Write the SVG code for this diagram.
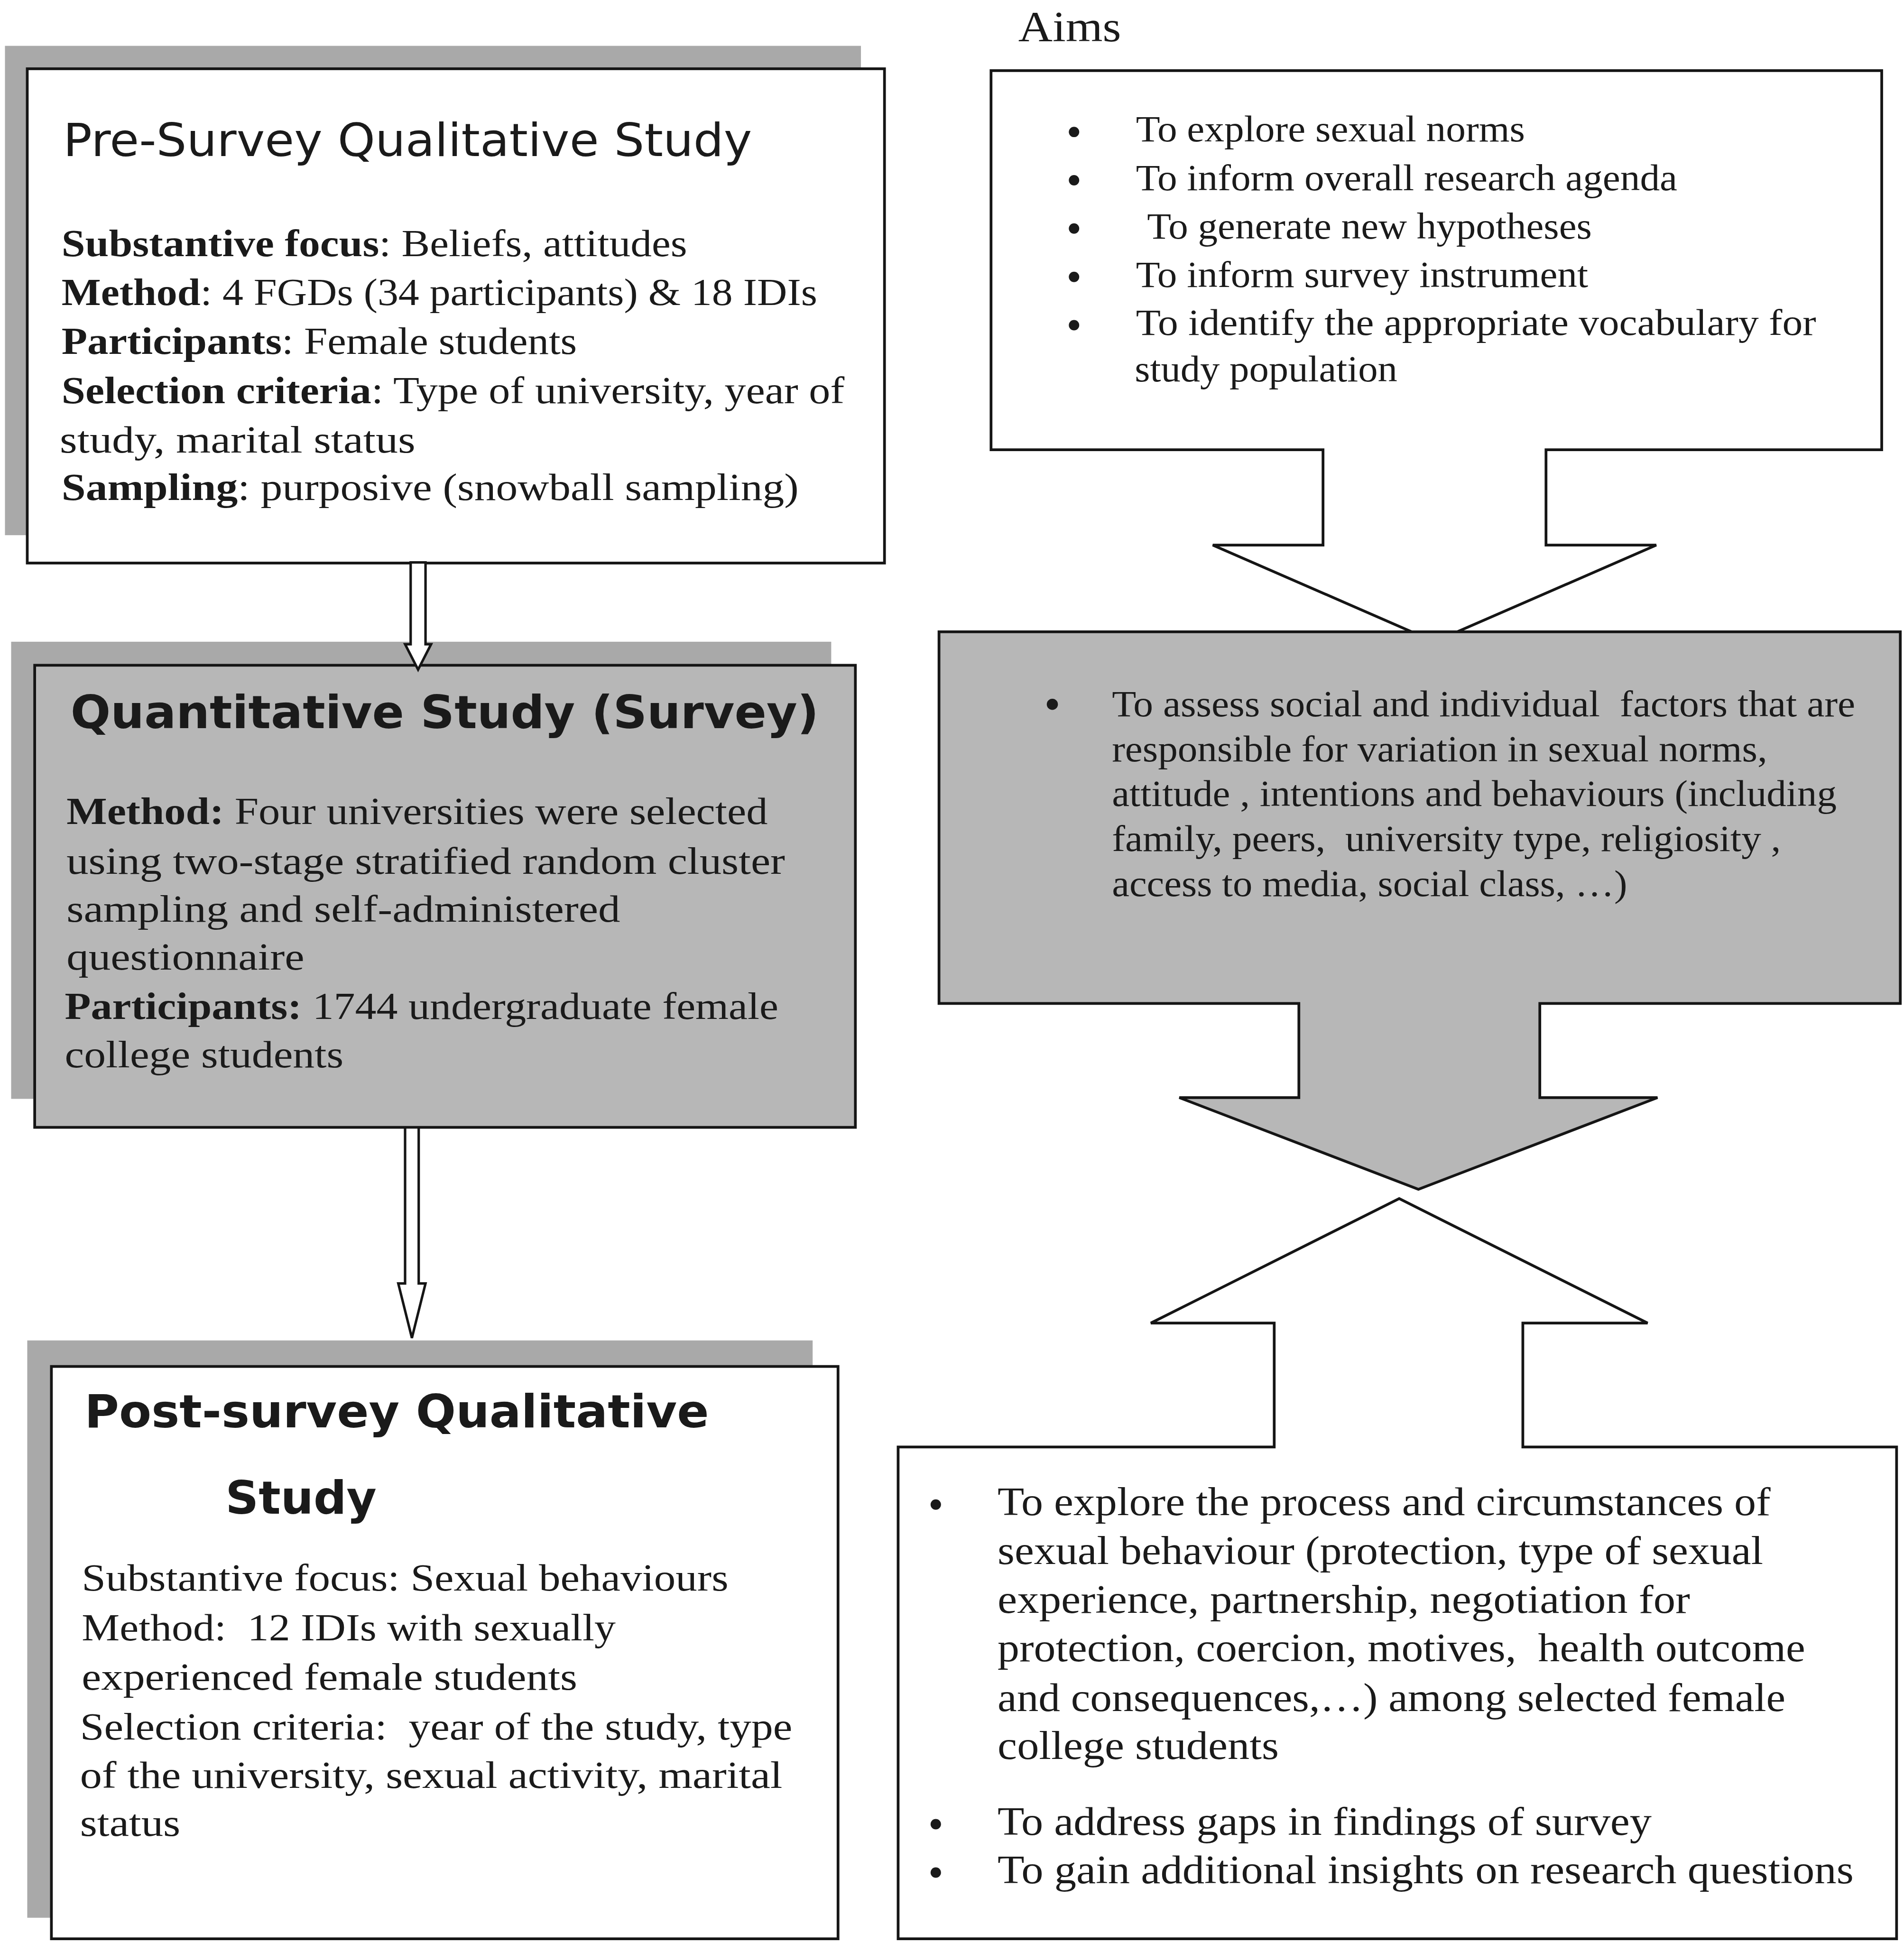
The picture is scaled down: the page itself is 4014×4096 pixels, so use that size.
<svg xmlns="http://www.w3.org/2000/svg" width="4014" height="4096" viewBox="0 0 4014 4096">
  <style>
    .shadow { fill: #a9a9a9; }
    .box { fill: #ffffff; stroke: #151515; stroke-width: 2.2; stroke-linejoin: miter; }
    .grey { fill: #b7b7b7; stroke: #151515; stroke-width: 2.2; stroke-linejoin: miter; }
    .link { fill: #ffffff; stroke: #151515; stroke-width: 2; stroke-linejoin: miter; }
    text { fill: #1a1a1a; }
    .title { font-family: "DejaVu Sans", Verdana, sans-serif; font-size: 37px; }
    .titleb { font-family: "DejaVu Sans", Verdana, sans-serif; font-size: 37px; font-weight: bold; }
    .body { font-family: "Liberation Serif", "Times New Roman", serif; font-size: 31px; }
    .aim { font-family: "Liberation Serif", "Times New Roman", serif; font-size: 30px; }
    .aim2 { font-family: "Liberation Serif", "Times New Roman", serif; font-size: 32px; }
    .b { font-weight: bold; }
    .dot { fill: #1a1a1a; }
  </style>

  <rect width="4014" height="4096" fill="#ffffff"/>

  <g transform="scale(2.6116)">

    <!-- Left column: study phases -->
    <g id="pre-survey">
      <rect class="shadow" x="4" y="37" width="691" height="395"/>
      <rect class="box" x="22" y="55.5" width="692" height="399"/>
      <text class="title" x="51" y="126" textLength="556" lengthAdjust="spacingAndGlyphs">Pre-Survey Qualitative Study</text>
      <text class="body" x="49.7" y="206.6" textLength="505" lengthAdjust="spacingAndGlyphs"><tspan class="b">Substantive focus</tspan>: Beliefs, attitudes</text>
      <text class="body" x="49.7" y="246.4" textLength="610" lengthAdjust="spacingAndGlyphs"><tspan class="b">Method</tspan>: 4 FGDs (34 participants) &amp; 18 IDIs</text>
      <text class="body" x="49.7" y="285.7" textLength="416" lengthAdjust="spacingAndGlyphs"><tspan class="b">Participants</tspan>: Female students</text>
      <text class="body" x="49.7" y="325.5" textLength="632" lengthAdjust="spacingAndGlyphs"><tspan class="b">Selection criteria</tspan>: Type of university, year of</text>
      <text class="body" x="48.3" y="365.4" textLength="287" lengthAdjust="spacingAndGlyphs">study, marital status</text>
      <text class="body" x="49.7" y="403.7" textLength="595" lengthAdjust="spacingAndGlyphs"><tspan class="b">Sampling</tspan>: purposive (snowball sampling)</text>
    </g>

    <g id="survey">
      <rect class="shadow" x="9" y="518" width="662" height="369"/>
      <rect class="grey" x="28" y="537" width="662.5" height="373"/>
      <text class="titleb" x="57" y="587.7" textLength="604" lengthAdjust="spacingAndGlyphs">Quantitative Study (Survey)</text>
      <text class="body" x="53.7" y="665" textLength="566" lengthAdjust="spacingAndGlyphs"><tspan class="b">Method:</tspan> Four universities were selected</text>
      <text class="body" x="53.7" y="705.3" textLength="580" lengthAdjust="spacingAndGlyphs">using two-stage stratified random cluster</text>
      <text class="body" x="53.7" y="744" textLength="447" lengthAdjust="spacingAndGlyphs">sampling and self-administered</text>
      <text class="body" x="53.7" y="782.7" textLength="192" lengthAdjust="spacingAndGlyphs">questionnaire</text>
      <text class="body" x="52.3" y="822.3" textLength="576" lengthAdjust="spacingAndGlyphs"><tspan class="b">Participants:</tspan> 1744 undergraduate female</text>
      <text class="body" x="52.3" y="861.6" textLength="225" lengthAdjust="spacingAndGlyphs">college students</text>
    </g>

    <g id="post-survey">
      <rect class="shadow" x="22" y="1082" width="634" height="466"/>
      <rect class="box" x="41.5" y="1103" width="635" height="462"/>
      <text class="titleb" x="68.3" y="1152" textLength="504" lengthAdjust="spacingAndGlyphs">Post-survey Qualitative</text>
      <text class="titleb" x="182" y="1221.8" textLength="122" lengthAdjust="spacingAndGlyphs">Study</text>
      <text class="body" x="66" y="1284" textLength="522" lengthAdjust="spacingAndGlyphs">Substantive focus: Sexual behaviours</text>
      <text class="body" x="66" y="1324" textLength="431" lengthAdjust="spacingAndGlyphs" xml:space="preserve">Method:  12 IDIs with sexually</text>
      <text class="body" x="66" y="1364" textLength="400" lengthAdjust="spacingAndGlyphs">experienced female students</text>
      <text class="body" x="64.6" y="1404" textLength="575" lengthAdjust="spacingAndGlyphs" xml:space="preserve">Selection criteria:  year of the study, type</text>
      <text class="body" x="64.6" y="1443" textLength="567" lengthAdjust="spacingAndGlyphs">of the university, sexual activity, marital</text>
      <text class="body" x="64.6" y="1482" textLength="81" lengthAdjust="spacingAndGlyphs">status</text>
    </g>

    <!-- Block arrows between the phases -->
    <g id="connectors">
      <polygon class="link" points="331.5,454 331.5,520 327,520 337.5,540.5 348,520 343.5,520 343.5,454"/>
      <polygon class="link" points="327,910 327,1036 321.5,1036 332.5,1080 343.5,1036 338,1036 338,910"/>
    </g>

    <!-- Right column: aims -->
    <text class="aim" x="822" y="33.5" style="font-size:35px" textLength="83" lengthAdjust="spacingAndGlyphs">Aims</text>

    <g id="aims-pre">
      <path class="box" d="M800,57 H1519 V363 H1248 V440 H1337 L1158,518 L979,440 H1068 V363 H800 Z"/>
      <circle class="dot" cx="867" cy="106.5" r="4.2"/>
      <circle class="dot" cx="867" cy="145.5" r="4.2"/>
      <circle class="dot" cx="867" cy="184.5" r="4.2"/>
      <circle class="dot" cx="867" cy="223.5" r="4.2"/>
      <circle class="dot" cx="867" cy="262.5" r="4.2"/>
      <text class="aim" x="917" y="114" textLength="314" lengthAdjust="spacingAndGlyphs">To explore sexual norms</text>
      <text class="aim" x="917" y="153.5" textLength="437" lengthAdjust="spacingAndGlyphs">To inform overall research agenda</text>
      <text class="aim" x="926" y="192.5" textLength="359" lengthAdjust="spacingAndGlyphs">To generate new hypotheses</text>
      <text class="aim" x="917" y="231.5" textLength="365" lengthAdjust="spacingAndGlyphs">To inform survey instrument</text>
      <text class="aim" x="917" y="270.5" textLength="549" lengthAdjust="spacingAndGlyphs">To identify the appropriate vocabulary for</text>
      <text class="aim" x="916" y="308" textLength="212" lengthAdjust="spacingAndGlyphs">study population</text>
    </g>

    <g id="aims-survey">
      <path class="grey" d="M758,510 H1534 V810 H1243 V886 H1338 L1145,960 L952,886 H1048.5 V810 H758 Z"/>
      <circle class="dot" cx="849.5" cy="568.5" r="4.5"/>
      <text class="aim" x="897.6" y="578" textLength="600" lengthAdjust="spacingAndGlyphs" xml:space="preserve">To assess social and individual  factors that are</text>
      <text class="aim" x="897.6" y="614.6" textLength="529" lengthAdjust="spacingAndGlyphs">responsible for variation in sexual norms,</text>
      <text class="aim" x="897.6" y="650.7" textLength="585" lengthAdjust="spacingAndGlyphs">attitude , intentions and behaviours (including</text>
      <text class="aim" x="897.6" y="687" textLength="540" lengthAdjust="spacingAndGlyphs" xml:space="preserve">family, peers,  university type, religiosity ,</text>
      <text class="aim" x="897.6" y="723.2" textLength="416" lengthAdjust="spacingAndGlyphs">access to media, social class, …)</text>
    </g>

    <g id="aims-post">
      <path class="box" d="M725,1168 H1028.6 V1068 H929 L1129.5,967.5 L1330,1068 H1229.3 V1168 H1531 V1565 H725 Z"/>
      <circle class="dot" cx="755.4" cy="1214.5" r="4.2"/>
      <circle class="dot" cx="755.4" cy="1472.5" r="4.2"/>
      <circle class="dot" cx="755.4" cy="1511.5" r="4.2"/>
      <text class="aim2" x="805.3" y="1223" textLength="624" lengthAdjust="spacingAndGlyphs">To explore the process and circumstances of</text>
      <text class="aim2" x="805.3" y="1262.5" textLength="618" lengthAdjust="spacingAndGlyphs">sexual behaviour (protection, type of sexual</text>
      <text class="aim2" x="805.3" y="1302" textLength="559" lengthAdjust="spacingAndGlyphs">experience, partnership, negotiation for</text>
      <text class="aim2" x="805.3" y="1341" textLength="652" lengthAdjust="spacingAndGlyphs" xml:space="preserve">protection, coercion, motives,  health outcome</text>
      <text class="aim2" x="805.3" y="1381" textLength="636" lengthAdjust="spacingAndGlyphs">and consequences,…) among selected female</text>
      <text class="aim2" x="805.3" y="1420" textLength="227" lengthAdjust="spacingAndGlyphs">college students</text>
      <text class="aim2" x="805.3" y="1481" textLength="528" lengthAdjust="spacingAndGlyphs">To address gaps in findings of survey</text>
      <text class="aim2" x="805.3" y="1520" textLength="691" lengthAdjust="spacingAndGlyphs">To gain additional insights on research questions</text>
    </g>

  </g>
</svg>
